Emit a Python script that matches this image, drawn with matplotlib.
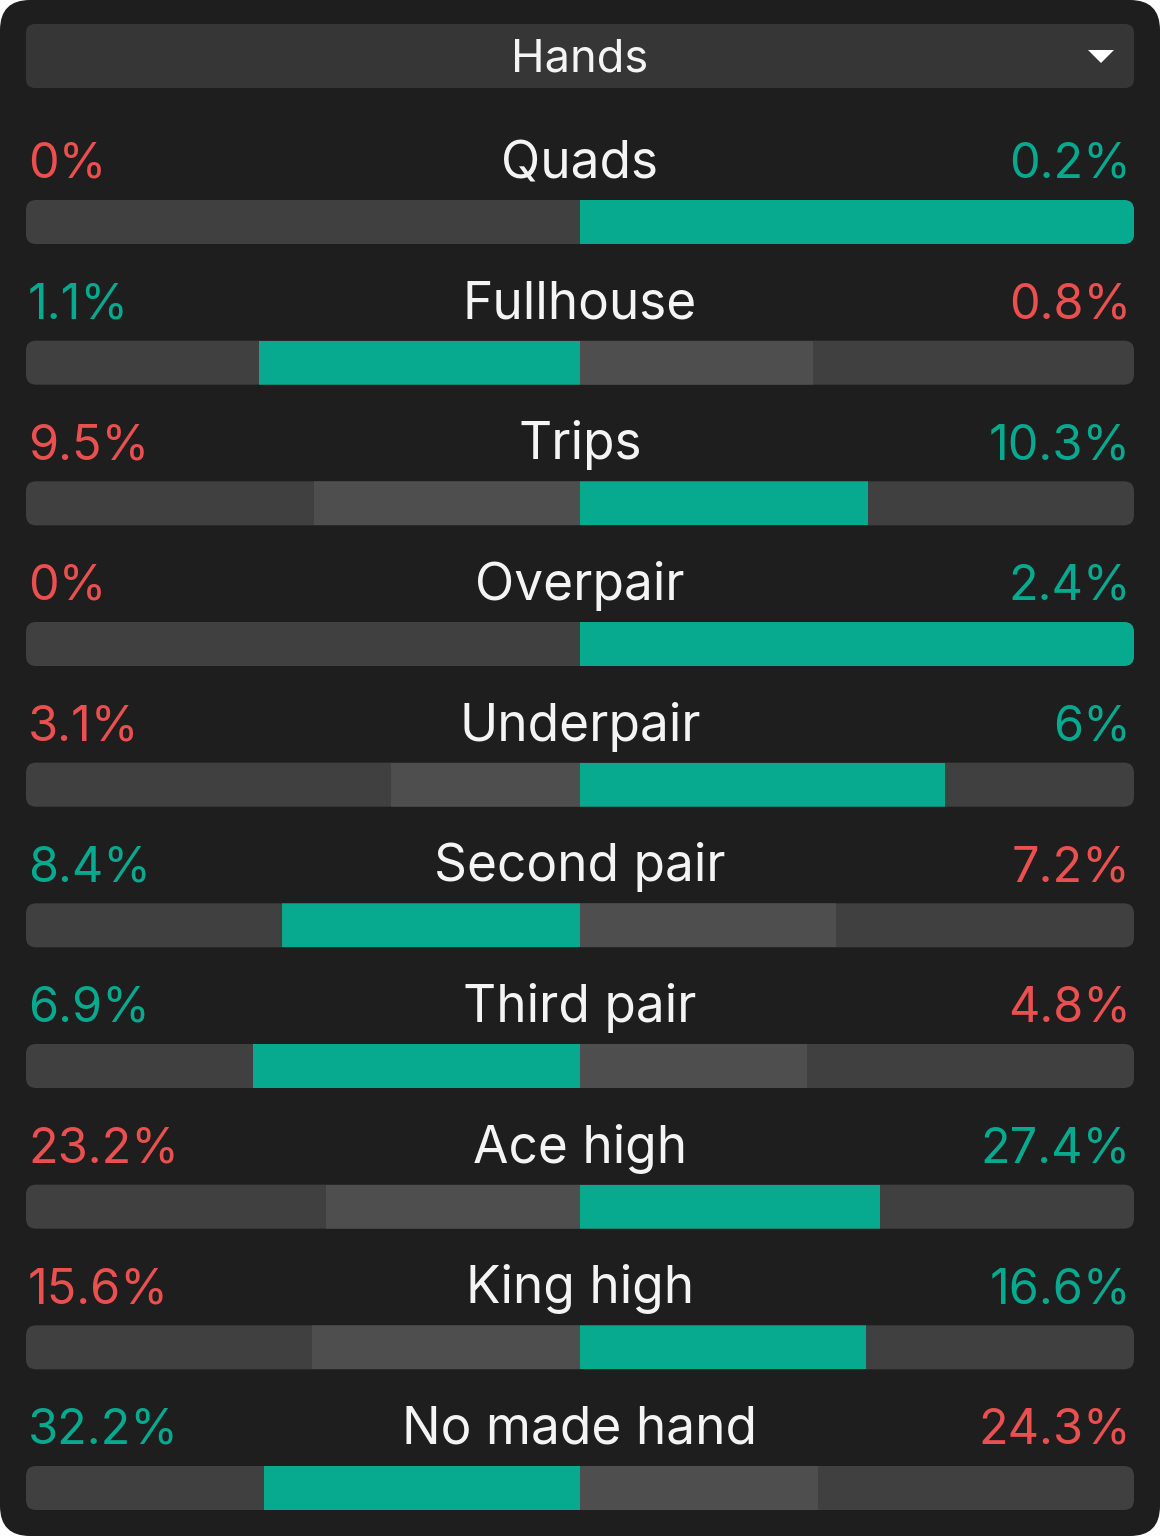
import matplotlib
matplotlib.use("Agg")
import matplotlib.pyplot as plt
from matplotlib.patches import FancyBboxPatch, Polygon

plt.rcParams['font.family'] = ['Inter', 'DejaVu Sans']

# data
title = "Hands"
labels = ["Quads", "Fullhouse", "Trips", "Overpair", "Underpair",
          "Second pair", "Third pair", "Ace high", "King high", "No made hand"]
left_vals = [0, 1.1, 9.5, 0, 3.1, 8.4, 6.9, 23.2, 15.6, 32.2]
right_vals = [0.2, 0.8, 10.3, 2.4, 6, 7.2, 4.8, 27.4, 16.6, 24.3]

# styling
BG = "#1e1e1e"
HEADER = "#363636"
TRACK = "#404040"
LOSER = "#4e4e4e"
GREEN = "#07a98f"
RED = "#e9504f"
WHITE = "#f4f4f4"

W, H = 1160, 1536
x0, x1 = 26, 1134
cx = (x0 + x1) / 2
half = (x1 - x0) / 2
bar_h = 44
first_top = 200
pitch = (1466 - 200) / 9

fig = plt.figure(figsize=(W / 100, H / 100), dpi=100, facecolor="white")
ax = fig.add_axes([0, 0, 1, 1])
ax.set_xlim(0, W)
ax.set_ylim(H, 0)
ax.axis("off")

# panel
ax.add_patch(FancyBboxPatch((0, 0), W, H, boxstyle="round,pad=0,rounding_size=30",
                            facecolor=BG, edgecolor="none"))

# header dropdown
ax.add_patch(FancyBboxPatch((x0, 24), x1 - x0, 64, boxstyle="round,pad=0,rounding_size=9",
                            facecolor=HEADER, edgecolor="none"))
ax.text(cx, 71, title, color=WHITE, fontsize=32.5, ha="center", va="baseline")
ax.add_patch(Polygon([[1088, 50], [1114, 50], [1101, 63]], closed=True,
                     facecolor="white", edgecolor="none"))

for i, (lab, lv, rv) in enumerate(zip(labels, left_vals, right_vals)):
    top = first_top + i * pitch
    yc = top + bar_h / 2
    base = top - 22
    total = lv + rv
    lw = half * lv / total
    rw = half * rv / total
    left_win = lv > rv

    track = FancyBboxPatch((x0, top), x1 - x0, bar_h, boxstyle="round,pad=0,rounding_size=10",
                           facecolor=TRACK, edgecolor="none")
    ax.add_patch(track)
    bars = ax.barh([yc, yc], [lw, rw], left=[cx - lw, cx], height=bar_h,
                   color=[GREEN if left_win else LOSER, LOSER if left_win else GREEN],
                   linewidth=0)
    for p in bars.patches:
        p.set_clip_path(track)

    ax.text(28, base, f"{lv:g}%", color=GREEN if left_win else RED,
            fontsize=35, ha="left", va="baseline")
    ax.text(1131, base, f"{rv:g}%", color=RED if left_win else GREEN,
            fontsize=35, ha="right", va="baseline")
    ax.text(cx, base, lab, color=WHITE, fontsize=37, ha="center", va="baseline")

fig.savefig("out.png", dpi=100, facecolor="white")
